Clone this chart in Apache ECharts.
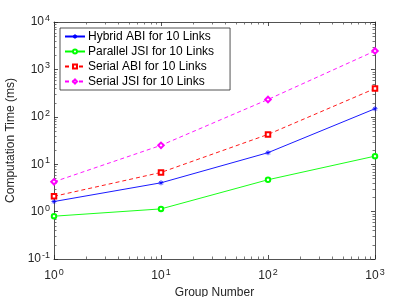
<!DOCTYPE html>
<html><head><meta charset="utf-8">
<script src="https://cdn.jsdelivr.net/npm/echarts@6/dist/echarts.min.js"></script>
<style>html,body{margin:0;padding:0;background:#fff}#c{width:415px;height:297px}</style>
</head><body><div id="c"></div>
<script>
const groupNumbers = [1, 10, 100, 1000];
const hybridABI = [1.63, 4.05, 17.5, 148];
const parallelJSI = [0.80, 1.14, 4.7, 14.8];
const serialABI = [2.1, 6.7, 42.5, 395];
const serialJSI = [4.25, 25, 232, 2450];
const seriesNames = ['Hybrid ABI for 10 Links', 'Parallel JSI for 10 Links', 'Serial ABI for 10 Links', 'Serial JSI for 10 Links'];
const xMinor = [2,3,4,5,6,7,8,9,20,30,40,50,60,70,80,90,200,300,400,500,600,700,800,900];
const yMinor = [0.2,0.3,0.4,0.5,0.6,0.7,0.8,0.9,2,3,4,5,6,7,8,9,20,30,40,50,60,70,80,90,200,300,400,500,600,700,800,900,2000,3000,4000,5000,6000,7000,8000,9000];
const xRange = [1, 1000];
const yRange = [0.1, 10000];

const axisColor = '#262626';
const font = 'Liberation Sans, Arial, Helvetica, sans-serif';
const asterisk = 'path://M0,5L10,5M5,0L5,10M1.5,1.5L8.5,8.5M8.5,1.5L1.5,8.5';
const colors = ['#0000ff', '#00ff00', '#ff0000', '#ff00ff'];
const lineTypes = ['solid', 'solid', [4, 3], [4, 3]];
const symbols = [asterisk, 'emptyCircle', 'emptyRect', 'emptyDiamond'];
const values = [hybridABI, parallelJSI, serialABI, serialJSI];

const rich = {
  b: {fontSize: 12, lineHeight: 12, fontFamily: font, color: axisColor, verticalAlign: 'bottom'},
  e: {fontSize: 9, lineHeight: 9, fontFamily: font, color: axisColor, verticalAlign: 'bottom', padding: [0, 0, 5, 1]}
};
const expFmt = v => '{b|10}{e|' + Math.round(Math.log10(v)) + '}';

function frameAxis(pos, range, extra) {
  return Object.assign({
    type: 'log', logBase: 10, min: range[0], max: range[1], position: pos,
    axisLine: {show: true, onZero: false, lineStyle: {color: axisColor, width: 0.8}},
    axisTick: {show: true, inside: true, length: 4, lineStyle: {color: axisColor, width: 0.8}},
    axisLabel: {show: false}, splitLine: {show: false}
  }, extra || {});
}

const minorLen = 2.5;
const tickStyle = {stroke: '#555555', lineWidth: 0.8};

const series = values.map((vals, i) => ({
  name: seriesNames[i], type: 'line', data: groupNumbers.map((x, k) => [x, vals[k]]),
  symbol: symbols[i], symbolSize: i === 3 ? 5.5 : (i === 0 ? 5 : 4.5), color: colors[i], z: 3,
  lineStyle: {color: colors[i], width: 0.9, type: lineTypes[i]},
  itemStyle: {color: colors[i], borderColor: colors[i], borderWidth: 0.8}
}));
// minor log ticks (2..9 of each decade) on bottom/top edges
series.push({
  type: 'custom', name: 'xminor', z: 1, clip: false, silent: true,
  data: xMinor.map(v => [v, yRange[0]]),
  renderItem: (params, api) => {
    const v = api.value(0);
    const b = api.coord([v, yRange[0]]), t = api.coord([v, yRange[1]]);
    const px = Math.round(b[0]) + 0.5;
    return {type: 'group', children: [
      {type: 'line', shape: {x1: px, y1: b[1], x2: px, y2: b[1] - minorLen}, style: tickStyle},
      {type: 'line', shape: {x1: px, y1: t[1], x2: px, y2: t[1] + minorLen}, style: tickStyle}
    ]};
  }
});
// minor log ticks on left/right edges
series.push({
  type: 'custom', name: 'yminor', z: 1, clip: false, silent: true,
  data: yMinor.map(v => [xRange[0], v]),
  renderItem: (params, api) => {
    const v = api.value(1);
    const l = api.coord([xRange[0], v]), r = api.coord([xRange[1], v]);
    const py = Math.round(l[1]) + 0.5;
    return {type: 'group', children: [
      {type: 'line', shape: {x1: l[0], y1: py, x2: l[0] + minorLen, y2: py}, style: tickStyle},
      {type: 'line', shape: {x1: r[0], y1: py, x2: r[0] - minorLen, y2: py}, style: tickStyle}
    ]};
  }
});

const chart = echarts.init(document.getElementById('c'), null, {renderer: 'canvas'});
chart.setOption({
  animation: false,
  backgroundColor: '#fff',
  grid: {left: 54, right: 40, top: 22, bottom: 38, containLabel: false, outerBoundsMode: 'none'},
  legend: {
    left: 60, top: 28, orient: 'vertical', z: 10,
    backgroundColor: '#fff', borderColor: axisColor, borderWidth: 0.8,
    padding: [1, 16, 1, 4], itemGap: 0, itemWidth: 20, itemHeight: 5,
    textStyle: {fontSize: 12, fontFamily: font, color: '#000', lineHeight: 15, padding: [0,0,0,-2]},
    data: seriesNames
  },
  xAxis: [
    frameAxis('bottom', xRange, {
      name: 'Group Number', nameLocation: 'middle', nameGap: 25,
      nameTextStyle: {fontSize: 12, fontFamily: font, color: axisColor},
      axisLabel: {show: true, formatter: expFmt, rich: rich, margin: 11}}),
    frameAxis('top', xRange)
  ],
  yAxis: [
    frameAxis('left', yRange, {
      name: 'Computation Time (ms)', nameLocation: 'middle', nameGap: 23,
      nameTextStyle: {fontSize: 12, fontFamily: font, color: axisColor},
      axisLabel: {show: true, formatter: expFmt, rich: rich, margin: 4}}),
    frameAxis('right', yRange)
  ],
  series: series
});
</script></body></html>
